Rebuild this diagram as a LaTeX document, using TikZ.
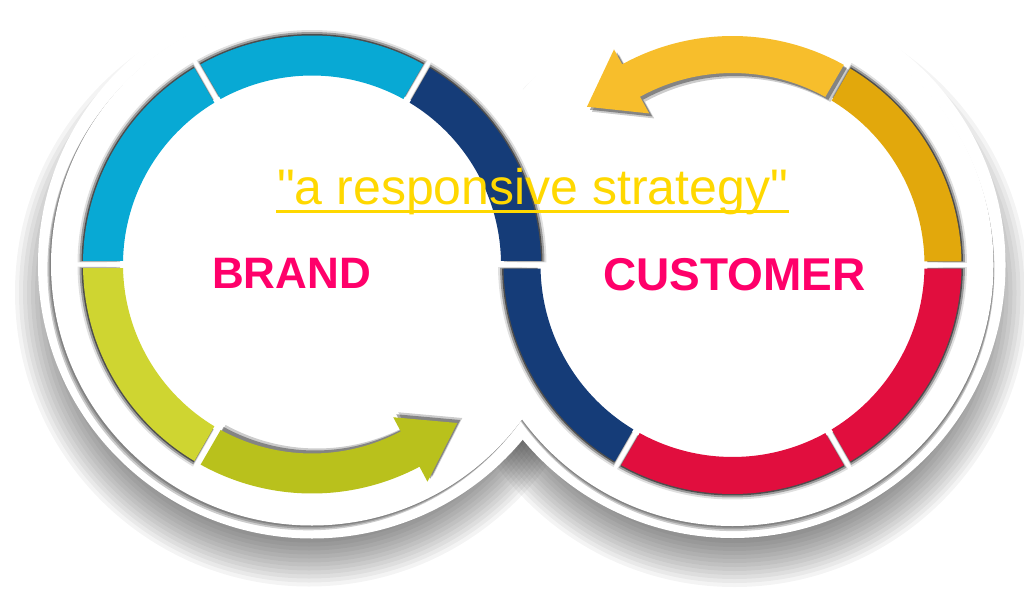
\documentclass[tikz,border=0pt]{standalone}
\usepackage{fontspec}
\setmainfont{Liberation Sans}
\newfontfamily\quotefont{Liberation Sans}[Ligatures=TeXOff]
\usetikzlibrary{calc}

\definecolor{cyanseg}{HTML}{08A9D4}
\definecolor{ygreen}{HTML}{CFD531}
\definecolor{oliveseg}{HTML}{B9C11C}
\definecolor{navyseg}{HTML}{153C78}
\definecolor{yarrow}{HTML}{F7BE2C}
\definecolor{goldseg}{HTML}{E2A80C}
\definecolor{redseg}{HTML}{E10E3E}
\definecolor{pinktext}{HTML}{FF006A}
\definecolor{qyellow}{HTML}{FFD800}

% annular sector with parallel-ish gaps: Rin, Rout, a1, a2
\newcommand{\segpath}[4]{({#3+1.1}:{#1}) arc[start angle={#3+1.1}, end angle={#4-1.1}, radius={#1}] -- ({#4-0.9}:{#2}) arc[start angle={#4-0.9}, end angle={#3+0.9}, radius={#2}] -- cycle}
% arrow: Rin, Rout, a1, aback, atip, rtip, rbarbin, rbarbout
\newcommand{\arrpath}[8]{({#3+1.1}:{#1}) arc[start angle={#3+1.1}, end angle={#4}, radius={#1}] -- (#4:#7) -- (#5:#6) -- (#4:#8) -- (#4:#2) arc[start angle={#4}, end angle={#3+0.9}, radius={#2}] -- cycle}
% shadow of a segment on its outer side
\newcommand{\segshadow}[5]{%
  \fill[black, opacity=0.12, shift={#1}] \segpath{#2+3}{#3+5.5}{#4-0.4}{#5+0.4};
  \fill[black, opacity=0.3, shift={#1}] \segpath{#2+3}{#3+3.5}{#4-0.2}{#5+0.2};
  \fill[black, opacity=0.5, shift={#1}] \segpath{#2+3}{#3+1.5}{#4}{#5};}

\tikzset{
  discwhite/.style={fill=white},
  txtbig/.style={anchor=base west, inner sep=0pt},
}

\begin{document}
\begin{tikzpicture}[x=1pt, y=1pt]
\useasboundingbox (0,0) rectangle (1024,590);
\fill[white] (0,0) rectangle (1024,590);

\coordinate (L) at (312,325.5);
\coordinate (R) at (732.5,325);

% soft shadows of the outer discs
\foreach \k in {0,...,12}{
  \fill[black, opacity=0.045] ($(L)+(-3,-28)$) circle[radius={246+4*\k}];
  \fill[black, opacity=0.045] ($(R)+(2,-28)$) circle[radius={246+4*\k}];
}
% outer white discs
\fill[discwhite] (L) circle[radius=274];
\fill[discwhite] (R) circle[radius=273];

% thin shadows of the inner discs (crescents toward lower side)
\foreach \d in {1,2,3}{
  \fill[black, opacity=0.2] ($(L)+(-1.2*\d,-1.6*\d)$) circle[radius=261];
  \fill[black, opacity=0.2] ($(R)+(0.3*\d,-1.7*\d)$) circle[radius=261];
}
\fill[discwhite] (L) circle[radius=261];
\fill[discwhite] (R) circle[radius=261];

% ---------- segment shadows ----------
\segshadow{(L)}{189}{229}{120}{180}
\segshadow{(L)}{189}{229}{60}{120}
\segshadow{(L)}{189}{229}{0}{60}
\segshadow{(L)}{189}{229}{180}{240}
\segshadow{(R)}{192}{229}{0}{60}
\segshadow{(R)}{192}{229}{300}{360}
\segshadow{(R)}{192}{229}{240}{300}
\segshadow{(R)}{192}{229}{180}{240}

% arrow shadows (toward the inside)
\fill[black, opacity=0.2, shift={($(L)+(5,5)$)}] \arrpath{189}{229}{240}{298}{312.5}{215}{173}{246};
\fill[black, opacity=0.35, shift={($(L)+(3,3)$)}] \arrpath{189}{229}{240}{298}{312.5}{215}{173}{246};
\fill[black, opacity=0.2, shift={($(R)+(5,-5)$)}] \arrpath{192}{229}{60}{118.8}{132.6}{215}{173}{246};
\fill[black, opacity=0.35, shift={($(R)+(3,-3)$)}] \arrpath{192}{229}{60}{118.8}{132.6}{215}{173}{246};

% ---------- left ring (BRAND) ----------
\fill[cyanseg, shift={(L)}] \segpath{189}{229}{120}{180};
\fill[cyanseg, shift={(L)}] \segpath{189}{229}{60}{120};
\fill[navyseg, shift={(L)}] \segpath{189}{229}{0}{60};
\fill[ygreen, shift={(L)}] \segpath{189}{229}{180}{240};
\fill[oliveseg, shift={(L)}] \arrpath{189}{229}{240}{298}{312.5}{215}{173}{246};

% ---------- right ring (CUSTOMER) ----------
\fill[goldseg, shift={(R)}] \segpath{192}{229}{0}{60};
\fill[redseg, shift={(R)}] \segpath{192}{229}{300}{360};
\fill[redseg, shift={(R)}] \segpath{192}{229}{240}{300};
\fill[navyseg, shift={(R)}] \segpath{192}{229}{180}{240};
\fill[yarrow, shift={(R)}] \arrpath{192}{229}{60}{118.8}{132.6}{215}{173}{246};

% ---------- texts ----------
\node[txtbig, text=qyellow, font=\quotefont\fontsize{50}{60}\selectfont] (quote) at (277,385) {"a responsive strategy"};
\draw[qyellow, line width=2.5pt] ([xshift=-1pt, yshift=-6.5pt]quote.base west) -- ([xshift=1pt, yshift=-6.5pt]quote.base east);
\node[txtbig, text=pinktext, font=\bfseries\fontsize{44}{50}\selectfont] (brand) at (212,302) {BRAND};
\node[txtbig, text=pinktext, font=\bfseries\fontsize{46}{52}\selectfont] (customer) at (603,300) {CUSTOMER};
\end{tikzpicture}
\end{document}
